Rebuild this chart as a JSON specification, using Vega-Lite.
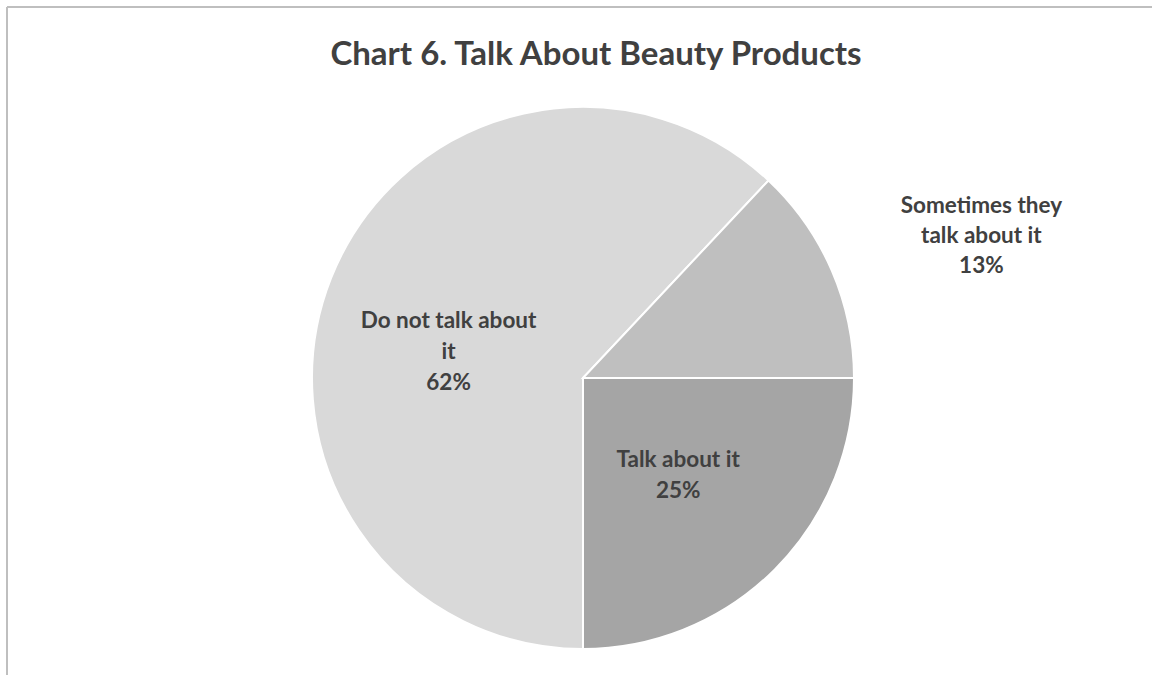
{
  "$schema": "https://vega.github.io/schema/vega-lite/v6.json",
  "width": 1152,
  "height": 742,
  "autosize": {"type": "none"},
  "padding": {"left": 7, "top": 7, "right": -7, "bottom": -74},
  "background": "white",
  "view": {"stroke": "#bfbfbf", "strokeWidth": 2, "fill": "white", "strokeDash": [1152, 1894, 742, 0]},
  "title": {
    "text": "Chart 6. Talk About Beauty Products",
    "font": "Lato",
    "fontSize": 33,
    "fontWeight": "bold",
    "color": "#404040",
    "anchor": "middle",
    "frame": "group",
    "baseline": "alphabetic",
    "offset": -91,
    "dx": 13
  },
  "data": {
    "values": [
      {"category": "Talk about it", "value": 25, "idx": 1, "label": "Talk about it\n25%"},
      {"category": "Do not talk about it", "value": 62, "idx": 2, "label": "Do not talk about\nit\n62%"},
      {"category": "Sometimes they talk about it", "value": 13, "idx": 3, "label": "Sometimes they\ntalk about it\n13%"}
    ]
  },
  "transform": [
    {"stack": "value", "groupby": [], "sort": [{"field": "idx"}], "as": ["v0", "v1"]},
    {"calculate": "(datum.v0 + datum.v1) / 2", "as": "mid"}
  ],
  "layer": [
    {
      "mark": {"type": "arc", "radius": 271, "stroke": "white", "strokeWidth": 2},
      "encoding": {
        "theta": {"field": "v0", "type": "quantitative", "scale": {"domain": [0, 100], "range": [1.5707963, 7.8539816]}},
        "theta2": {"field": "v1"},
        "color": {
          "field": "category",
          "type": "nominal",
          "scale": {"domain": ["Talk about it", "Do not talk about it", "Sometimes they talk about it"], "range": ["#a5a5a5", "#d9d9d9", "#bfbfbf"]},
          "legend": null
        }
      }
    },
    {
      "transform": [{"filter": "datum.idx == 1"}],
      "mark": {"type": "text", "radius": 136, "font": "Lato", "fontSize": 22.5, "fontWeight": "bold", "color": "#404040", "lineBreak": "\n", "lineHeight": 31, "align": "center", "baseline": "alphabetic", "dx": -1, "dy": -7},
      "encoding": {"theta": {"field": "mid", "type": "quantitative"}, "text": {"field": "label"}}
    },
    {
      "transform": [{"filter": "datum.idx == 2"}],
      "mark": {"type": "text", "radius": 136, "font": "Lato", "fontSize": 22.5, "fontWeight": "bold", "color": "#404040", "lineBreak": "\n", "lineHeight": 31, "align": "center", "baseline": "alphabetic", "dx": -8, "dy": 0},
      "encoding": {"theta": {"field": "mid", "type": "quantitative"}, "text": {"field": "label"}}
    },
    {
      "transform": [{"filter": "datum.idx == 3"}],
      "mark": {"type": "text", "radius": 421, "font": "Lato", "fontSize": 22.5, "fontWeight": "bold", "color": "#404040", "lineBreak": "\n", "lineHeight": 30, "align": "center", "baseline": "alphabetic", "dx": 12, "dy": 2},
      "encoding": {"theta": {"field": "mid", "type": "quantitative"}, "text": {"field": "label"}}
    }
  ]
}
